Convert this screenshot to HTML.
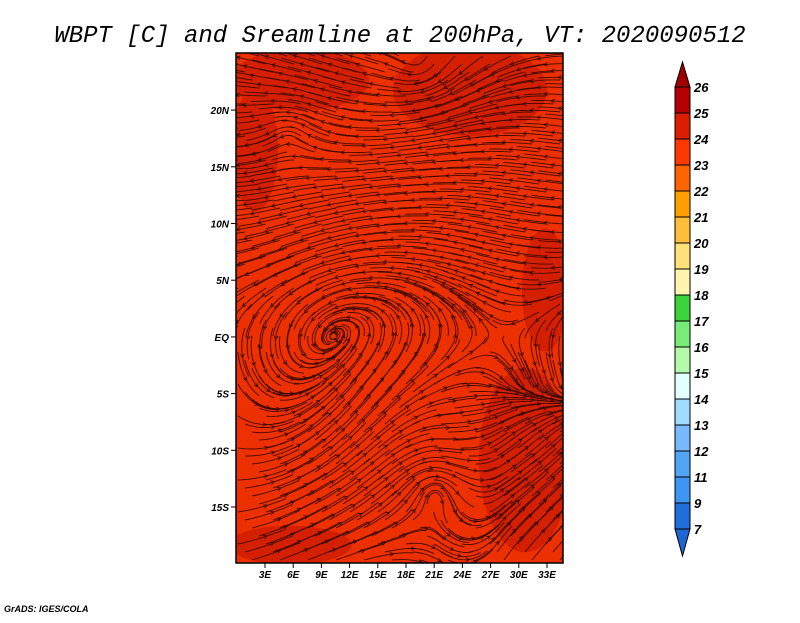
<!DOCTYPE html>
<html><head><meta charset="utf-8"><style>
body{margin:0;background:#fff;}
svg text{font-family:"Liberation Sans",sans-serif;font-style:italic;font-weight:bold;}
</style></head><body>
<svg id="s" width="800" height="618" viewBox="0 0 800 618">
<text x="400" y="42" text-anchor="middle" style="font-family:'Liberation Mono',monospace;font-style:italic;font-weight:normal;font-size:24px">WBPT [C] and Sreamline at 200hPa, VT: 2020090512</text>
<defs><clipPath id="mc"><rect x="236" y="53" width="327" height="510"/></clipPath></defs>
<g clip-path="url(#mc)">
<rect x="236" y="53" width="327" height="510" fill="#ec3000"/>
<g id="patches"></g>
<g id="stream" fill="none" stroke="#2a0600" stroke-width="0.9" stroke-opacity="0.85"></g>
</g>
<rect x="236" y="53" width="327" height="510" fill="none" stroke="#000" stroke-width="1.5"/>
<g id="axes" font-size="10"></g>
<g id="cbar" font-size="13"></g>
<text x="4" y="612" font-size="9">GrADS: IGES/COLA</text>
</svg>
<script>
const NS="http://www.w3.org/2000/svg";
const lonTicks=[3,6,9,12,15,18,21,24,27,30,33];
const latTicks=[20,15,10,5,0,-5,-10,-15];
const cbLabels=["26","25","24","23","22","21","20","19","18","17","16","15","14","13","12","11","9","7"];
const cbColors=["#b40000","#dc1e00","#ff3700","#ff6400","#ffa000","#ffbe3c","#ffe17a","#fff5af","#3cd23c","#78eb78","#b4faaa","#e1ffff","#a0dcff","#78b9ff","#50a5f5","#3c96f5","#1e6edc"];
const topTri="#a00000", botTri="#1e64d2";
function X(lon){return 236.8+lon*9.4;}
function Y(lat){return 336.9-lat*11.34;}
function el(t,a,p){const e=document.createElementNS(NS,t);for(const k in a)e.setAttribute(k,a[k]);p.appendChild(e);return e;}
const ax=document.getElementById('axes');
lonTicks.forEach(l=>{const x=X(l);
 const t=el('line',{x1:x,y1:563,x2:x,y2:568,stroke:'#000'},ax);
 
 const tx=el('text',{x:x,y:578,'text-anchor':'middle'},ax);tx.textContent=l+'E';
 });
latTicks.forEach(l=>{const y=Y(l);
 const t=el('line',{x1:231,y1:y,x2:236,y2:y,stroke:'#000'},ax);
 
 const tx=el('text',{x:229,y:y+4,'text-anchor':'end'},ax);tx.textContent=l===0?'EQ':(Math.abs(l)+(l>0?'N':'S'));
 });
const cb=document.getElementById('cbar');
const cbX=675,cbW=15,cbTop=87,cbStep=26;
let tr=el('polygon',{points:`${cbX},${cbTop} ${cbX+cbW},${cbTop} ${cbX+cbW/2},62`,fill:topTri,stroke:'#000'},cb);

cbColors.forEach((c,i)=>{const r=el('rect',{x:cbX,y:cbTop+i*cbStep,width:cbW,height:cbStep,fill:c,stroke:'#000','stroke-width':1},cb);
 });
const cbBot=cbTop+cbColors.length*cbStep;
tr=el('polygon',{points:`${cbX},${cbBot} ${cbX+cbW},${cbBot} ${cbX+cbW/2},556`,fill:botTri,stroke:'#000'},cb);

cbLabels.forEach((s,i)=>{const t=el('text',{x:694,y:cbTop+i*cbStep+5},cb);t.textContent=s;
 });
const pg=document.getElementById('patches');
[[300,80,90,40],[470,90,100,60],[525,460,60,120],[290,545,80,25],[255,150,30,80],[545,290,30,80]].forEach(p=>{
 const e=el('ellipse',{cx:p[0],cy:p[1],rx:p[2]/1.3,ry:p[3]/1.3,fill:'#d42000'},pg);
 });
const sg=document.getElementById('stream');
const vort=[[435,490,1],[290,130,-0.6],[420,65,0.6]];
function field(x,y){
 let u=-1+1.9*Math.max(0,Math.min(1,(y-260)/220))+0.2*Math.sin(y/40);
 let v=0.3*Math.sin(x/60+y/90)+0.1;
 const w=Math.max(0,Math.min(1,(x-440)/60))*Math.max(0,Math.min(1,(y-380)/60));
 u=u*(1-w)+0.8*w; v=v*(1-w)-1.0*w;
 vort.forEach(q=>{const dx=x-q[0],dy=y-q[1],r2=dx*dx+dy*dy+300,s=q[2]*500/r2;u+=-dy*s/15;v+=dx*s/15;});
 const m=Math.hypot(u,v)||1;return [u/m,v/m];}
for(let sy=56;sy<563;sy+=8)for(let sx=238;sx<575;sx+=28){
 let x=sx+((sy/8)%4)*7,y=sy,pts=[[x,y]];
 for(let k=0;k<20;k++){const f=field(x,y);x+=f[0]*2.5;y+=f[1]*2.5;pts.push([x,y]);}
 const p=el('path',{d:'M'+pts.map(q=>q[0].toFixed(1)+','+q[1].toFixed(1)).join('L')},sg);
 
 const a=pts[10],b=pts[12],ang=Math.atan2(b[1]-a[1],b[0]-a[0]);
 const h=el('path',{d:`M${b[0]-4*Math.cos(ang-0.5)},${b[1]-4*Math.sin(ang-0.5)}L${b[0]},${b[1]}L${b[0]-4*Math.cos(ang+0.5)},${b[1]-4*Math.sin(ang+0.5)}`},sg);
 }
</script>
</body></html>
